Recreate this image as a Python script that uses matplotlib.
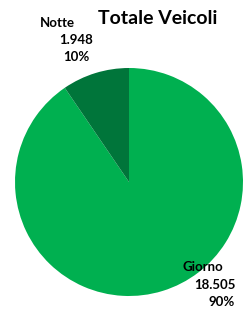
import matplotlib.pyplot as plt

categories = ["Giorno", "Notte"]
values = [18505, 1948]
colors = ["#00B050", "#00753A"]
title = "Totale Veicoli"

W, H = 245, 309
fig = plt.figure(figsize=(W / 100, H / 100), dpi=100)
plt.rcParams["font.family"] = ["Lato", "DejaVu Sans"]

# pie area in pixels: center (129, 182), radius 114
cx, cy, r = 129, 182, 114
ax = fig.add_axes([(cx - r) / W, (H - cy - r) / H, 2 * r / W, 2 * r / H])
ax.pie(values, colors=colors, startangle=90, counterclock=False, radius=1,
       wedgeprops=dict(linewidth=0))
ax.set_xlim(-1, 1)
ax.set_ylim(-1, 1)
ax.set_aspect("equal")
ax.axis("off")

fig.text(158 / W, 1 - 18 / H, title, ha="center", va="center",
         fontsize=14, fontweight="bold")

total = sum(values)

def fmt(v):
    return f"{v:,}".replace(",", ".")

# label positions (pixels), one per line
label_pos = {
    "Notte": [(57, 23), (76, 40), (76, 57)],
    "Giorno": [(203, 267), (215, 285), (222, 302)],
}
for name, v in zip(categories, values):
    lines = [name, fmt(v), f"{round(100 * v / total)}%"]
    for txt, (px, py) in zip(lines, label_pos[name]):
        fig.text(px / W, 1 - py / H, txt, ha="center", va="center",
                 fontsize=9.5, fontweight="bold")

fig.savefig("out.png", dpi=100)
